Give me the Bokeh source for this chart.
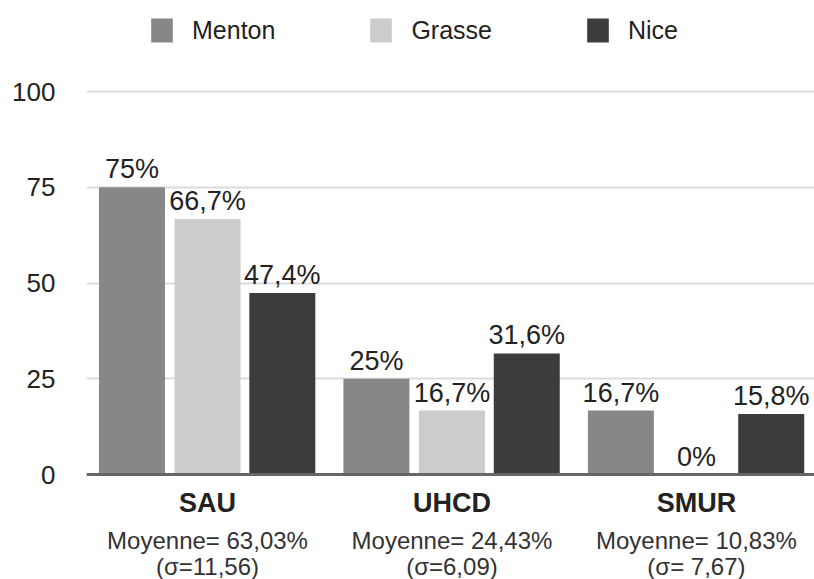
from bokeh.plotting import figure
from bokeh.models import Range1d, FixedTicker, ColumnDataSource
from bokeh.core.properties import value
from bokeh.embed import file_html
from bokeh.resources import INLINE

categories = ["SAU", "UHCD", "SMUR"]
cities = ["Menton", "Grasse", "Nice"]
menton = [75, 25, 16.7]
grasse = [66.7, 16.7, 0]
nice = [47.4, 31.6, 15.8]
moyennes = ["Moyenne= 63,03%", "Moyenne= 24,43%", "Moyenne= 10,83%"]
sigmas = ["(σ=11,56)", "(σ=6,09)", "(σ= 7,67)"]
y_ticks = [0, 25, 50, 75, 100]

colors = ["#878787", "#cccccc", "#3c3c3c"]
offsets = [-0.309, 0.0, 0.306]
bar_w = 0.27
FONT = value("Liberation Sans")

W, H = 814, 579
frame_left = 86
frame_top, frame_base = 91, 474
ppu = (frame_base - frame_top) / 100.0
y0 = -(H - frame_base) / ppu
y1 = 100 + frame_top / ppu
x0, x1 = -0.495, 2.483

p = figure(width=W, height=H, output_backend="svg", toolbar_location=None,
           x_range=Range1d(x0, x1), y_range=Range1d(y0, y1),
           min_border_left=frame_left, min_border_right=0,
           min_border_top=0, min_border_bottom=0)
p.outline_line_color = None
p.xaxis.visible = False
p.xgrid.grid_line_color = None
p.yaxis.ticker = FixedTicker(ticks=y_ticks)
p.yaxis.axis_line_color = None
p.yaxis.major_tick_line_color = None
p.yaxis.minor_tick_line_color = None
p.yaxis.major_tick_out = 0
p.yaxis.major_tick_in = 0
p.yaxis.major_label_text_font = "Liberation Sans"
p.yaxis.major_label_text_font_size = "26px"
p.yaxis.major_label_text_color = "#222222"
p.yaxis.major_label_standoff = 31
p.ygrid.grid_line_color = "#dcdcdc"
p.ygrid.grid_line_width = 2

def fmt(v):
    return f"{v:g}".replace(".", ",") + "%"

series = [menton, grasse, nice]
for name, vals, col, off in zip(cities, series, colors, offsets):
    xs = [i + off for i in range(len(categories))]
    src = ColumnDataSource(dict(x=xs, top=vals, lab=[fmt(v) for v in vals]))
    p.vbar(x="x", top="top", width=bar_w, bottom=0, source=src,
           fill_color=col, line_color=None, legend_label=name)
    p.text(x="x", y="top", text="lab", source=src, text_align="center",
           text_baseline="bottom", y_offset=-3, text_font=FONT,
           text_font_size="27px", text_color="#222222")

# baseline
p.segment(x0=[x0], y0=[0], x1=[x1], y1=[0], line_color="#666666", line_width=3)

cx = list(range(len(categories)))
p.text(x=cx, y=[0] * 3, text=categories, text_align="center", text_baseline="middle",
       y_offset=28, text_font=FONT, text_font_size="27px", text_font_style="bold",
       text_color="#222222")
p.text(x=cx, y=[0] * 3, text=moyennes, text_align="center", text_baseline="middle",
       y_offset=66, text_font=FONT, text_font_size="24px", text_color="#333333")
p.text(x=cx, y=[0] * 3, text=sigmas, text_align="center", text_baseline="middle",
       y_offset=92, text_font=FONT, text_font_size="24px", text_color="#333333")

lg = p.legend[0]
lg.orientation = "horizontal"
lg.location = (62, 534)
lg.padding = 0
lg.margin = 0
lg.spacing = 92
lg.glyph_width = 27
lg.glyph_height = 30
lg.label_standoff = 17
lg.label_text_font = "Liberation Sans"
lg.label_text_font_size = "25px"
lg.label_text_color = "#222222"
lg.border_line_color = None
lg.background_fill_alpha = 0

open("out.html", "w").write(file_html(p, INLINE))
